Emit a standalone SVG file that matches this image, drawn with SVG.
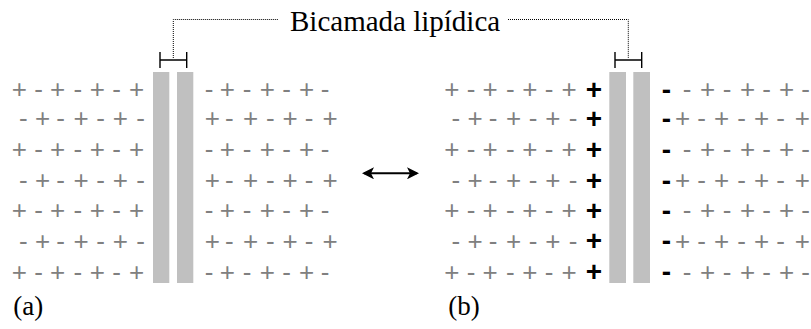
<svg xmlns="http://www.w3.org/2000/svg" width="811" height="329" viewBox="0 0 811 329">
<style>
.c{font-family:"Liberation Sans",Arial,sans-serif;font-size:26px;fill:#808080;text-anchor:middle}
.b{font-family:"Liberation Sans",Arial,sans-serif;font-size:28px;font-weight:bold;fill:#000;text-anchor:middle}
.t{font-family:"Liberation Serif","Times New Roman","DejaVu Serif",serif;fill:#000}
.bar{fill:#c0c0c0}
.br{stroke:#000;stroke-width:1.4;fill:none}
.dot{stroke:#000;stroke-width:1;fill:none;stroke-dasharray:1 1}
</style>
<defs>
<marker id="ah" viewBox="0 0 12 12" refX="10" refY="6" markerWidth="12" markerHeight="12" markerUnits="userSpaceOnUse" orient="auto-start-reverse">
<path d="M0,0 L12,6 L0,12 L3,6 Z" fill="#000"/>
</marker>
</defs>
<g id="label-bicamada">
<text class="t" font-family="Liberation Serif, Times New Roman, serif" x="290" y="31" font-size="29">Bicamada lipídica</text>
</g>
<g id="membrane-a">
<rect class="bar" x="153" y="72" width="16.3" height="211"/>
<rect class="bar" x="177" y="72" width="16.3" height="211"/>
<path class="br" d="M160,60 H186.7 M160,52 V68 M186.7,52 V68"/>
</g>
<g id="membrane-b">
<rect class="bar" x="609.3" y="72" width="16.7" height="211"/>
<rect class="bar" x="633.3" y="72" width="16.7" height="211"/>
<path class="br" d="M615,60 H641.7 M615,52 V68 M641.7,52 V68"/>
</g>
<g id="charges-a-left">
<text class="c" x="19.3 38.6 57.6 77.8 97.3 116.5 136.7" y="98">+-+-+-+</text>
<text class="c" x="23.3 42.7 60.7 81 100.7 120.3 140.7" y="127">-+-+-+-</text>
<text class="c" x="19.3 38.6 57.6 77.8 97.3 116.5 136.7" y="158.3">+-+-+-+</text>
<text class="c" x="23.3 42.7 60.7 81 100.7 120.3 140.7" y="189">-+-+-+-</text>
<text class="c" x="19.3 38.6 57.6 77.8 97.3 116.5 136.7" y="219">+-+-+-+</text>
<text class="c" x="23.3 42.7 60.7 81 100.7 120.3 140.7" y="249.7">-+-+-+-</text>
<text class="c" x="19.3 38.6 57.6 77.8 97.3 116.5 136.7" y="280.7">+-+-+-+</text>
</g>
<g id="charges-a-right">
<text class="c" x="209 227.4 247 267.3 286.7 306.7 325" y="98">-+-+-+-</text>
<text class="c" x="212.3 229.4 250.7 270.4 290 309 330" y="127">+-+-+-+</text>
<text class="c" x="209 227.4 247 267.3 286.7 306.7 325" y="158.3">-+-+-+-</text>
<text class="c" x="212.3 229.4 250.7 270.4 290 309 330" y="189">+-+-+-+</text>
<text class="c" x="209 227.4 247 267.3 286.7 306.7 325" y="219">-+-+-+-</text>
<text class="c" x="212.3 229.4 250.7 270.4 290 309 330" y="249.7">+-+-+-+</text>
<text class="c" x="209 227.4 247 267.3 286.7 306.7 325" y="280.7">-+-+-+-</text>
</g>
<g id="charges-b-left">
<text class="c" x="451.8 471.1 490.1 510.3 529.8 549 569.2" y="98">+-+-+-+</text>
<text class="c" x="455.8 475.2 493.2 513.5 533.2 552.8 573.2" y="127">-+-+-+-</text>
<text class="c" x="451.8 471.1 490.1 510.3 529.8 549 569.2" y="158.3">+-+-+-+</text>
<text class="c" x="455.8 475.2 493.2 513.5 533.2 552.8 573.2" y="189">-+-+-+-</text>
<text class="c" x="451.8 471.1 490.1 510.3 529.8 549 569.2" y="219">+-+-+-+</text>
<text class="c" x="455.8 475.2 493.2 513.5 533.2 552.8 573.2" y="249.7">-+-+-+-</text>
<text class="c" x="451.8 471.1 490.1 510.3 529.8 549 569.2" y="280.7">+-+-+-+</text>
<text class="b" x="594" y="98.5">+</text>
<text class="b" x="594" y="127.5">+</text>
<text class="b" x="594" y="158.8">+</text>
<text class="b" x="594" y="189.5">+</text>
<text class="b" x="594" y="219.5">+</text>
<text class="b" x="594" y="250.2">+</text>
<text class="b" x="594" y="281.2">+</text>
</g>
<g id="charges-b-right">
<text class="b" x="666.3" y="98.5">-</text>
<text class="b" x="666.3" y="127.5">-</text>
<text class="b" x="666.3" y="158.8">-</text>
<text class="b" x="666.3" y="189.5">-</text>
<text class="b" x="666.3" y="219.5">-</text>
<text class="b" x="666.3" y="250.2">-</text>
<text class="b" x="666.3" y="281.2">-</text>
<text class="c" x="687 707.5 727 747.5 766.5 786.5 805.5" y="98">-+-+-+-</text>
<text class="c" x="682.7 701.5 721.7 741.7 761.7 780.7 802.3" y="127">+-+-+-+</text>
<text class="c" x="687 707.5 727 747.5 766.5 786.5 805.5" y="158.3">-+-+-+-</text>
<text class="c" x="682.7 701.5 721.7 741.7 761.7 780.7 802.3" y="189">+-+-+-+</text>
<text class="c" x="687 707.5 727 747.5 766.5 786.5 805.5" y="219">-+-+-+-</text>
<text class="c" x="682.7 701.5 721.7 741.7 761.7 780.7 802.3" y="249.7">+-+-+-+</text>
<text class="c" x="687 707.5 727 747.5 766.5 786.5 805.5" y="280.7">-+-+-+-</text>
</g>
<g id="label-a"><text class="t" font-family="Liberation Serif, Times New Roman, serif" x="13.3" y="315" font-size="27">(a)</text></g>
<g id="label-b"><text class="t" font-family="Liberation Serif, Times New Roman, serif" x="448.3" y="315" font-size="27">(b)</text></g>
<g id="connectors">
<path class="dot" d="M173.3,58 V19.5 H278"/>
<path class="dot" d="M508,19.5 H628.3 V58"/>
<line x1="364" y1="173.3" x2="417" y2="173.3" stroke="#000" stroke-width="2" marker-start="url(#ah)" marker-end="url(#ah)"/>
</g>
</svg>
